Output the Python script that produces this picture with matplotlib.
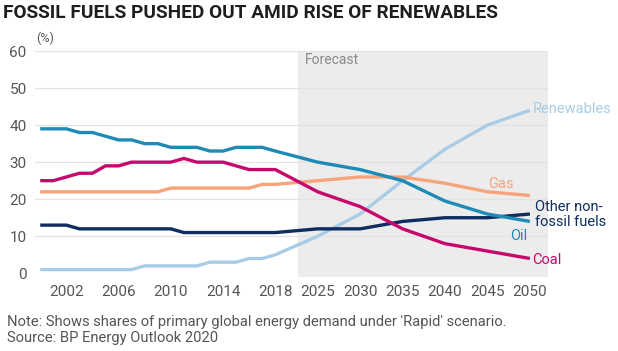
import matplotlib
matplotlib.use("Agg")
from matplotlib import pyplot as plt
import numpy as np

plt.rcParams['font.family'] = ['Roboto', 'DejaVu Sans']

# years: annual history then 5-year forecast steps
hist_years = list(range(2000, 2019))
fc_years = [2025, 2030, 2035, 2040, 2045, 2050]
years = hist_years + fc_years

oil = [39, 39, 39, 38, 38, 37, 36, 36, 35, 35, 34, 34, 34, 33, 33, 34, 34, 34, 33,
       30, 28, 25, 19.5, 16, 14]
coal = [25, 25, 26, 27, 27, 29, 29, 30, 30, 30, 30, 31, 30, 30, 30, 29, 28, 28, 28,
        22, 18, 12, 8, 6, 4]
gas = [22, 22, 22, 22, 22, 22, 22, 22, 22, 22, 23, 23, 23, 23, 23, 23, 23, 24, 24,
       25, 26, 26, 24.3, 22, 21]
other = [13, 13, 13, 12, 12, 12, 12, 12, 12, 12, 12, 11, 11, 11, 11, 11, 11, 11, 11,
         12, 12, 14, 15, 15, 16]
renew = [1, 1, 1, 1, 1, 1, 1, 1, 2, 2, 2, 2, 2, 3, 3, 3, 4, 4, 5,
         10, 16, 25, 33.5, 40, 44]

tick_years = [2002, 2006, 2010, 2014, 2018, 2025, 2030, 2035, 2040, 2045, 2050]

# x position: one unit per year in history, wider steps in forecast
def xpos(y):
    if y <= 2018:
        return y - 2000
    return 18 + 3.25 * (y - 2020) / 5

x = np.array([xpos(y) for y in years])

fig = plt.figure(figsize=(6.18, 3.51), dpi=100)
ax = fig.add_axes([0.0566, 0.2108, 0.887 - 0.0566, 0.8547 - 0.2108])

ax.axvspan(19.75, 39, color='#ececec', zorder=0, lw=0)
for g in range(10, 70, 10):
    ax.axhline(g, color='#e2e2e2', lw=0.9, zorder=1)

series = [
    (renew, '#a9cce6'),
    (gas, '#f5a47c'),
    (other, '#0f2d5f'),
    (oil, '#1f8ab5'),
    (coal, '#c6086c'),
]
for vals, col in series:
    ax.plot(x, vals, color=col, lw=2.4, zorder=3, solid_capstyle='butt')

ax.set_xlim(-0.4, 38.9)
ax.set_ylim(-1, 60)
ax.set_xticks([xpos(y) for y in tick_years])
ax.set_xticklabels([str(y) for y in tick_years])
ax.set_yticks(range(0, 70, 10))
ax.tick_params(length=0, labelsize=11, colors='#555555', pad=6)
for s in ax.spines.values():
    s.set_visible(False)

ax.text(20.3, 57.5, 'Forecast', fontsize=10, color='#8a8a8a', va='center')

ax.text(37.7, 44.3, 'Renewables', fontsize=10.5, color='#a9cce6', va='center')
ax.text(34.3, 24.2, 'Gas', fontsize=10.5, color='#f5a47c', va='center')
ax.text(37.9, 15.8, 'Other non-\nfossil fuels', fontsize=10.5, color='#0f2d5f',
        va='center', linespacing=1.05)
ax.text(36.0, 10.2, 'Oil', fontsize=10.5, color='#1f8ab5', va='center')
ax.text(37.7, 3.7, 'Coal', fontsize=10.5, color='#c6086c', va='center')

fig.text(0.005, 0.962, 'FOSSIL FUELS PUSHED OUT AMID RISE OF RENEWABLES',
         fontsize=13.7, fontweight='bold', color='#1e1e1e', va='center')
fig.text(0.058, 0.89, '(%)', fontsize=9, color='#555555', va='center')
fig.text(0.011, 0.083, "Note: Shows shares of primary global energy demand under 'Rapid' scenario.",
         fontsize=10.6, color='#555555', va='center')
fig.text(0.011, 0.037, 'Source: BP Energy Outlook 2020', fontsize=10.6,
         color='#555555', va='center')

fig.savefig('out.png', dpi=100, facecolor='white')
